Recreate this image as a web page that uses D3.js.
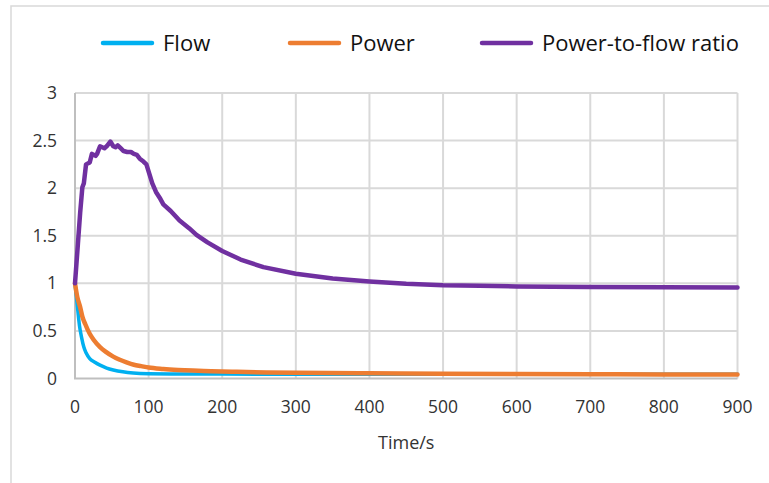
<!DOCTYPE html>
<html>
<head>
<meta charset="utf-8">
<script src="https://cdn.jsdelivr.net/npm/d3@7"></script>
<style>
  html, body { margin: 0; padding: 0; background: #fff; }
  svg text { font-family: "Open Sans", "Noto Sans", sans-serif; fill: #333; }
</style>
</head>
<body>
<div id="chart"></div>
<script>
// Data
const flowTime = [0, 2, 4, 6, 9, 12, 15, 20, 27, 34, 43, 52, 65, 79, 100, 150, 200, 300, 400, 500, 600, 700, 800, 900];
const flowValues = [1.0, 0.85, 0.7, 0.56, 0.43, 0.33, 0.27, 0.21, 0.17, 0.14, 0.11, 0.09, 0.07, 0.057, 0.05, 0.047, 0.046, 0.045, 0.045, 0.044, 0.044, 0.044, 0.044, 0.044];

const powerTime = [0, 3, 7, 10, 14, 20, 25, 34, 42, 52, 60, 70, 80, 90, 100, 120, 140, 160, 185, 220, 260, 300, 400, 500, 600, 700, 800, 900];
const powerValues = [1.0, 0.86, 0.75, 0.65, 0.57, 0.47, 0.41, 0.33, 0.28, 0.23, 0.2, 0.17, 0.145, 0.13, 0.115, 0.1, 0.09, 0.083, 0.077, 0.07, 0.064, 0.06, 0.054, 0.05, 0.047, 0.045, 0.043, 0.042];

const ratioTime = [0, 4, 7, 10, 12, 15, 20, 23, 28, 30, 34, 40, 43, 48, 52, 55, 58, 62, 66, 71, 76, 80, 84, 88, 93, 97, 101, 105, 110, 115, 120, 130, 142, 155, 165, 180, 200, 225, 256, 300, 350, 400, 450, 500, 550, 600, 700, 800, 900];
const ratioValues = [1.0, 1.42, 1.74, 2.01, 2.05, 2.25, 2.27, 2.36, 2.34, 2.36, 2.44, 2.42, 2.44, 2.49, 2.44, 2.43, 2.45, 2.42, 2.39, 2.38, 2.38, 2.36, 2.35, 2.31, 2.28, 2.25, 2.15, 2.05, 1.96, 1.9, 1.83, 1.76, 1.66, 1.58, 1.51, 1.43, 1.34, 1.25, 1.17, 1.1, 1.05, 1.02, 0.995, 0.98, 0.975, 0.968, 0.962, 0.958, 0.955];

const xTicks = [0, 100, 200, 300, 400, 500, 600, 700, 800, 900];
const yTicks = [0, 0.5, 1, 1.5, 2, 2.5, 3];

const seriesNames = ['Flow', 'Power', 'Power-to-flow ratio'];
const seriesColors = ['#00B0F0', '#ED7D31', '#7030A0'];

// Layout
const W = 769;
const H = 483;
const plot = { left: 75, right: 737.5, top: 93, bottom: 378.5 };

const svg = d3.select('#chart').append('svg')
  .attr('width', W)
  .attr('height', H);

// Chart frame (cropped on right / bottom like the source)
svg.append('rect')
  .attr('x', 11).attr('y', 6)
  .attr('width', W + 20).attr('height', H + 20)
  .attr('fill', '#fff')
  .attr('stroke', '#D9D9D9')
  .attr('stroke-width', 1.5);

const x = d3.scaleLinear().domain([0, 900]).range([plot.left, plot.right]);
const y = d3.scaleLinear().domain([0, 3]).range([plot.bottom, plot.top]);

// Gridlines
svg.append('g')
  .selectAll('line')
  .data(yTicks.filter(d => d > 0))
  .enter().append('line')
  .attr('x1', plot.left).attr('x2', plot.right)
  .attr('y1', d => y(d)).attr('y2', d => y(d))
  .attr('stroke', '#D9D9D9')
  .attr('stroke-width', 2);

svg.append('g')
  .selectAll('line')
  .data(xTicks.filter(d => d > 0))
  .enter().append('line')
  .attr('x1', d => x(d)).attr('x2', d => x(d))
  .attr('y1', plot.top).attr('y2', plot.bottom)
  .attr('stroke', '#D9D9D9')
  .attr('stroke-width', 2);

// Axes lines
svg.append('line')
  .attr('x1', plot.left).attr('x2', plot.left)
  .attr('y1', plot.top).attr('y2', plot.bottom)
  .attr('stroke', '#BFBFBF').attr('stroke-width', 2);
svg.append('line')
  .attr('x1', plot.left - 1).attr('x2', plot.right)
  .attr('y1', plot.bottom).attr('y2', plot.bottom)
  .attr('stroke', '#BFBFBF').attr('stroke-width', 2);

// Tick labels
svg.append('g')
  .selectAll('text')
  .data(yTicks)
  .enter().append('text')
  .attr('x', 57)
  .attr('y', d => y(d))
  .attr('dy', '0.35em')
  .attr('text-anchor', 'end')
  .style('font-size', '17.5px')
  .text(d => d);

svg.append('g')
  .selectAll('text')
  .data(xTicks)
  .enter().append('text')
  .attr('x', d => x(d))
  .attr('y', 413)
  .attr('text-anchor', 'middle')
  .style('font-size', '17.5px')
  .text(d => d);

svg.append('text')
  .attr('x', (plot.left + plot.right) / 2)
  .attr('y', 449)
  .attr('text-anchor', 'middle')
  .style('font-size', '18px')
  .text('Time/s');

// Series lines
const series = [
  { t: flowTime, v: flowValues, curve: d3.curveMonotoneX, width: 3.5 },
  { t: powerTime, v: powerValues, curve: d3.curveMonotoneX, width: 4.5 },
  { t: ratioTime, v: ratioValues, curve: d3.curveLinear, width: 4.5 }
];

series.forEach((s, i) => {
  const pts = s.t.map((t, k) => [t, s.v[k]]);
  const line = d3.line()
    .x(d => x(d[0]))
    .y(d => y(d[1]))
    .curve(s.curve);
  svg.append('path')
    .datum(pts)
    .attr('d', line)
    .attr('fill', 'none')
    .attr('stroke', seriesColors[i])
    .attr('stroke-width', s.width)
    .attr('stroke-linejoin', 'round')
    .attr('stroke-linecap', 'round');
});

// Legend
const legendX = [103, 290, 482];
const legend = svg.append('g');
seriesNames.forEach((name, i) => {
  legend.append('line')
    .attr('x1', legendX[i]).attr('x2', legendX[i] + 49)
    .attr('y1', 43).attr('y2', 43)
    .attr('stroke', seriesColors[i])
    .attr('stroke-width', 4.5)
    .attr('stroke-linecap', 'round');
  legend.append('text')
    .attr('x', legendX[i] + 60)
    .attr('y', 43)
    .attr('dy', '0.35em')
    .style('font-size', '22px')
    .style('fill', '#111')
    .text(name);
});
</script>
</body>
</html>
